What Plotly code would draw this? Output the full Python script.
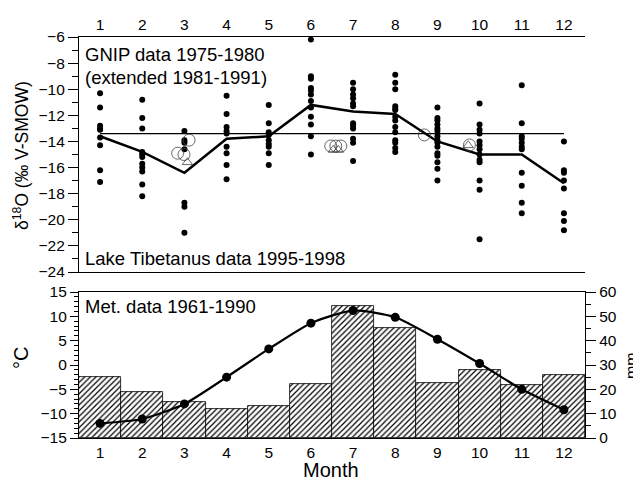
import plotly.graph_objects as go

months = [1, 2, 3, 4, 5, 6, 7, 8, 9, 10, 11, 12]
month_labels = [str(m) for m in months]

# GNIP monthly d18O values (per month, individual years)
gnip_jan = [-10.3, -11.4, -12.8, -13.0, -13.1, -13.7, -14.3, -16.2, -17.1]
gnip_feb = [-10.8, -12.2, -13.0, -14.8, -15.0, -15.2, -15.7, -16.0, -16.3, -17.3, -18.2]
gnip_mar = [-13.2, -13.9, -14.1, -14.6, -18.7, -19.0, -21.0]
gnip_apr = [-10.5, -11.9, -12.9, -13.2, -13.4, -14.4, -14.9, -15.8, -16.9]
gnip_may = [-11.2, -12.6, -13.3, -13.5, -13.9, -14.2, -14.4, -14.9, -15.8]
gnip_jun = [-6.2, -9.0, -9.2, -9.9, -10.1, -10.4, -10.9, -11.4, -12.1, -12.7, -13.6, -15.0]
gnip_jul = [-9.5, -10.0, -10.4, -10.7, -11.1, -11.3, -12.6, -12.8, -13.0, -13.8, -14.1, -15.5]
gnip_aug = [-8.9, -9.5, -10.0, -11.3, -11.5, -11.6, -12.1, -12.4, -12.9, -13.3, -13.9, -14.1, -14.5, -14.8]
gnip_sep = [-11.4, -12.2, -12.4, -12.7, -13.0, -13.2, -13.6, -13.9, -14.1, -14.4, -14.9, -15.1, -15.6, -16.1, -17.0]
gnip_oct = [-11.1, -12.7, -13.1, -13.4, -14.0, -14.3, -14.6, -15.0, -15.4, -15.6, -17.0, -17.7, -21.5]
gnip_nov = [-9.7, -12.6, -13.6, -13.8, -14.1, -14.4, -14.6, -16.4, -17.4, -18.7, -19.5]
gnip_dec = [-14.0, -16.2, -16.4, -17.0, -17.6, -19.5, -20.1, -20.8]

gnip_monthly_mean = [-13.6, -14.8, -16.4, -13.8, -13.6, -11.2, -11.7, -11.9, -14.0, -15.0, -15.0, -17.2]
gnip_overall_mean = -13.4

# Lake Tibetanus samples
lake_circle_x = [2.84, 3.11, 2.99, 6.47, 6.59, 6.71, 8.69, 9.76]
lake_circle_y = [-14.9, -13.9, -15.0, -14.35, -14.35, -14.35, -13.5, -14.27]
lake_triangle_x = [3.07, 6.53, 6.65, 9.73]
lake_triangle_y = [-15.6, -14.65, -14.65, -14.3]

# Met data 1961-1990
temperature_c = [-12.0, -11.1, -8.0, -2.5, 3.3, 8.6, 11.2, 9.8, 5.3, 0.3, -5.0, -9.2]
precip_mm = [25, 19, 15, 12, 13, 22, 54.3, 45.1, 22.8, 28, 21.7, 25.9]

gnip_all = [gnip_jan, gnip_feb, gnip_mar, gnip_apr, gnip_may, gnip_jun,
            gnip_jul, gnip_aug, gnip_sep, gnip_oct, gnip_nov, gnip_dec]

FONT = "Liberation Sans, Arial, sans-serif"
PAGE_OFF = 8  # default body margin of the html page
W, H = 641 - PAGE_OFF, 484 - PAGE_OFF
# plot area in window pixels: left 79, right 585, top 37, bottom 438
ML = 79 - PAGE_OFF
MT = 37 - PAGE_OFF
MR = W - (585 - PAGE_OFF)
MB = H - (438 - PAGE_OFF)
PW, PH = 585 - 79, 438 - 37


def px_x(x):
    return (x - 79) / PW


def px_y(y):
    return (438 - y) / PH


fig = go.Figure()

dot_x, dot_y = [], []
for m, vals in zip(months, gnip_all):
    dot_x += [m] * len(vals)
    dot_y += vals

fig.add_trace(go.Scatter(x=[months[0], months[-1]], y=[gnip_overall_mean] * 2,
                         mode="lines", line=dict(color="black", width=1.3),
                         xaxis="x", yaxis="y", showlegend=False))
fig.add_trace(go.Scatter(x=dot_x, y=dot_y, mode="markers",
                         marker=dict(color="black", size=6),
                         xaxis="x", yaxis="y", showlegend=False))
fig.add_trace(go.Scatter(x=months, y=gnip_monthly_mean, mode="lines",
                         line=dict(color="black", width=2.5),
                         xaxis="x", yaxis="y", showlegend=False))
fig.add_trace(go.Scatter(x=lake_circle_x, y=lake_circle_y, mode="markers",
                         marker=dict(symbol="circle-open", size=12, color="#444",
                                     line=dict(width=0.8, color="#444")),
                         xaxis="x", yaxis="y", showlegend=False))
fig.add_trace(go.Scatter(x=lake_triangle_x, y=lake_triangle_y, mode="markers",
                         marker=dict(symbol="triangle-up-open", size=9, color="#444",
                                     line=dict(width=0.8, color="#444")),
                         xaxis="x", yaxis="y", showlegend=False))

# bottom panel: bars on base (right, mm), temperature on overlay (left, degC)
fig.add_trace(go.Bar(x=months, y=precip_mm, width=1.0,
                     marker=dict(color="white", line=dict(color="black", width=0.8),
                                 pattern=dict(shape="/", fgcolor="black", bgcolor="white",
                                              size=4, solidity=0.3)),
                     xaxis="x2", yaxis="y2", showlegend=False))
fig.add_trace(go.Scatter(x=months, y=temperature_c, mode="lines+markers",
                         line=dict(color="black", width=2.2, shape="spline", smoothing=0.6),
                         marker=dict(color="black", size=9),
                         xaxis="x2", yaxis="y4", showlegend=False))

tickfont = dict(family=FONT, size=15.5, color="black")
top_dom = [px_y(272), 1.0]
bot_dom = [0.0, px_y(292)]

common = dict(automargin=False, showgrid=False, zeroline=False, tickfont=tickfont,
              showline=True, linecolor="black", linewidth=1.2)

fig.update_layout(
    template="none",
    width=W, height=H,
    margin=dict(l=ML, r=MR, t=MT, b=MB, autoexpand=False),
    paper_bgcolor="white", plot_bgcolor="white",
    font=dict(family=FONT, color="black"),
    bargap=0,
    xaxis=dict(domain=[0, 1], anchor="y", side="top", range=[0.5, 12.5],
               tickmode="array", tickvals=months, ticktext=month_labels,
               ticks="", mirror=True, **common),
    yaxis=dict(domain=top_dom, anchor="x", range=[-24, -6], dtick=2, tick0=-24,
               ticks="outside", ticklen=10, tickwidth=1, tickcolor="black",
               minor=dict(dtick=1, ticks="outside", ticklen=6, tickcolor="black", showgrid=False),
               **common),
    yaxis3=dict(overlaying="y", side="right", anchor="x", range=[-24, -6], dtick=2, tick0=-24,
                ticks="outside", ticklen=10, tickwidth=1, tickcolor="black",
                minor=dict(dtick=1, ticks="outside", ticklen=6, tickcolor="black", showgrid=False),
                **common),
    xaxis2=dict(domain=[0, 1], anchor="y2", side="bottom", range=[0.5, 12.5],
                tickmode="array", tickvals=months, ticktext=month_labels,
                ticks="", mirror=True, **common),
    yaxis2=dict(domain=bot_dom, anchor="x2", side="right", range=[0, 60], dtick=10,
                ticks="outside", ticklen=10, tickwidth=1, tickcolor="black",
                minor=dict(dtick=5, ticks="outside", ticklen=5, tickcolor="black", showgrid=False),
                **common),
    yaxis4=dict(overlaying="y2", side="left", anchor="x2", range=[-15, 15], dtick=5,
                ticks="outside", ticklen=8, tickwidth=1, tickcolor="black",
                minor=dict(dtick=1, ticks="outside", ticklen=4, tickcolor="black", showgrid=False),
                **common),
)

ann_font = dict(family=FONT, size=18.5, color="black")
annotations = [
    dict(text="GNIP data 1975-1980", x=px_x(83), y=px_y(54), xanchor="left", yanchor="middle", font=ann_font),
    dict(text="(extended 1981-1991)", x=px_x(83), y=px_y(77), xanchor="left", yanchor="middle", font=ann_font),
    dict(text="Lake Tibetanus data 1995-1998", x=px_x(83), y=px_y(258), xanchor="left", yanchor="middle", font=ann_font),
    dict(text="Met. data 1961-1990", x=px_x(83), y=px_y(306), xanchor="left", yanchor="middle", font=ann_font),
    dict(text="Month", x=px_x(331), y=px_y(470), xanchor="center", yanchor="middle",
         font=dict(family=FONT, size=20, color="black")),
    dict(text="δ<sup>18</sup>O (‰ V-SMOW)", x=px_x(21), y=px_y(156), xanchor="center", yanchor="middle",
         textangle=-90, font=dict(family=FONT, size=17.5, color="black")),
    dict(text="°C", x=px_x(21), y=px_y(358), xanchor="center", yanchor="middle",
         textangle=-90, font=dict(family=FONT, size=20, color="black")),
    dict(text="mm", x=px_x(631), y=px_y(366), xanchor="center", yanchor="middle",
         textangle=-90, font=dict(family=FONT, size=16, color="black")),
]
for a in annotations:
    a.update(xref="paper", yref="paper", showarrow=False)
fig.update_layout(annotations=annotations)

fig.write_html("out.html")
